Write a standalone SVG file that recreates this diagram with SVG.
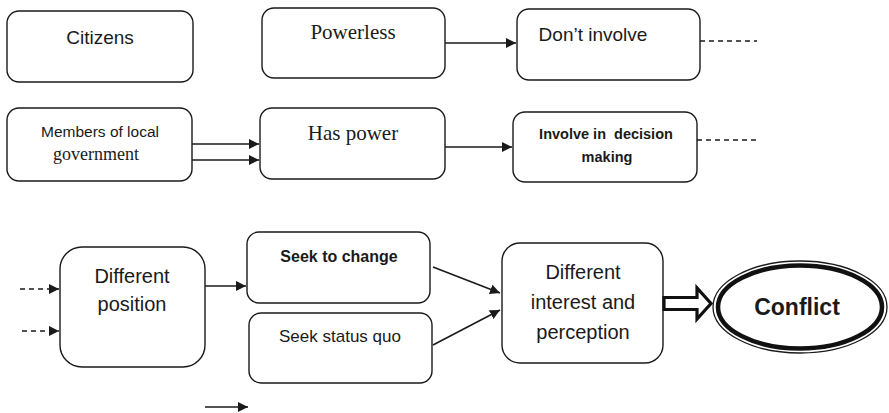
<svg xmlns="http://www.w3.org/2000/svg" width="889" height="413" viewBox="0 0 889 413">
<defs>
<marker id="ah" viewBox="0 0 10 10" refX="10" refY="5" markerWidth="10" markerHeight="10" markerUnits="userSpaceOnUse" orient="auto">
<path d="M0,0 L10,5 L0,10 Z" fill="#1a1a1a"/>
</marker>
<style>
.box{fill:#fff;stroke:#1a1a1a;stroke-width:1.4}
.ln{fill:none;stroke:#1a1a1a;stroke-width:1.6}
.dash{fill:none;stroke:#1a1a1a;stroke-width:1.3;stroke-dasharray:5,4}
.sans{font-family:"Liberation Sans",Arial,sans-serif;fill:#1a1a1a;text-anchor:middle}
.serif{font-family:"Liberation Serif","Times New Roman",serif;fill:#1a1a1a;text-anchor:middle}
.b{font-weight:bold}
</style>
</defs>
<rect width="889" height="413" fill="#fff"/>

<g id="citizens"><rect class="box" x="7" y="11" width="186" height="71" rx="12"/><text class="sans" x="100" y="44" font-size="19">Citizens</text></g>
<g id="powerless"><rect class="box" x="262" y="8" width="183" height="70" rx="12"/><text class="serif" x="353" y="39" font-size="21">Powerless</text></g>
<g id="dont-involve"><rect class="box" x="517" y="9" width="183" height="71" rx="12"/><text class="sans" x="593" y="41" font-size="19">Don’t involve</text></g>
<g id="members"><rect class="box" x="7" y="108" width="185" height="73" rx="12"/><text class="sans" x="100" y="137" font-size="15.5">Members of local</text><text class="serif" x="96" y="160" font-size="18">government</text></g>
<g id="has-power"><rect class="box" x="260" y="108" width="185" height="71" rx="12"/><text class="serif" x="353" y="140" font-size="21">Has power</text></g>
<g id="involve"><rect class="box" x="513" y="112" width="184" height="70" rx="12"/><text class="sans b" x="606" y="139" font-size="14.5" xml:space="preserve">Involve in  decision</text><text class="sans b" x="607" y="162" font-size="14.5">making</text></g>
<g id="different-position"><rect class="box" x="60" y="247" width="145" height="120" rx="22"/><text class="sans" x="132" y="283" font-size="20">Different</text><text class="sans" x="132" y="311" font-size="20">position</text></g>
<g id="seek-change"><rect class="box" x="247" y="232" width="183" height="71" rx="12"/><text class="sans b" x="339" y="262" font-size="16">Seek to change</text></g>
<g id="seek-status"><rect class="box" x="249" y="313" width="183" height="70" rx="12"/><text class="sans" x="340" y="342" font-size="17">Seek status quo</text></g>
<g id="different-interest"><rect class="box" x="502" y="243" width="161" height="120" rx="18"/><text class="sans" x="583" y="279" font-size="20">Different</text><text class="sans" x="583" y="309" font-size="20">interest and</text><text class="sans" x="583" y="339" font-size="20">perception</text></g>
<g id="conflict"><ellipse cx="800" cy="307" rx="87" ry="46" fill="#fff" stroke="#1a1a1a" stroke-width="1.3"/><ellipse cx="800" cy="307" rx="82" ry="41.5" fill="none" stroke="#111" stroke-width="4.5"/><text class="sans b" x="797" y="315" font-size="23">Conflict</text></g>

<g id="connectors">
<line class="ln" x1="445" y1="43" x2="516" y2="43" marker-end="url(#ah)"/>
<line class="dash" x1="700" y1="41" x2="757" y2="41"/>
<line class="ln" x1="192" y1="144" x2="259" y2="144" marker-end="url(#ah)"/>
<line class="ln" x1="192" y1="160" x2="259" y2="160" marker-end="url(#ah)"/>
<line class="ln" x1="445" y1="147" x2="512" y2="147" marker-end="url(#ah)"/>
<line class="dash" x1="697" y1="140" x2="757" y2="140"/>
<line class="dash" x1="20" y1="289" x2="59" y2="289" stroke-dasharray="7,5" marker-end="url(#ah)"/>
<line class="dash" x1="22" y1="331" x2="59" y2="331" stroke-dasharray="7,5" marker-end="url(#ah)"/>
<line class="ln" x1="205" y1="286" x2="246" y2="286" marker-end="url(#ah)"/>
<line class="ln" x1="433" y1="267" x2="500" y2="293" marker-end="url(#ah)"/>
<line class="ln" x1="433" y1="345" x2="500" y2="310" marker-end="url(#ah)"/>
<path d="M664,297.5 L697,297.5 L697,288 L711,303.5 L697,319 L697,309.5 L664,309.5 Z" fill="#fff" stroke="#111" stroke-width="3.2"/>
<line class="ln" x1="205" y1="407" x2="248" y2="407" marker-end="url(#ah)"/>
</g>
</svg>
